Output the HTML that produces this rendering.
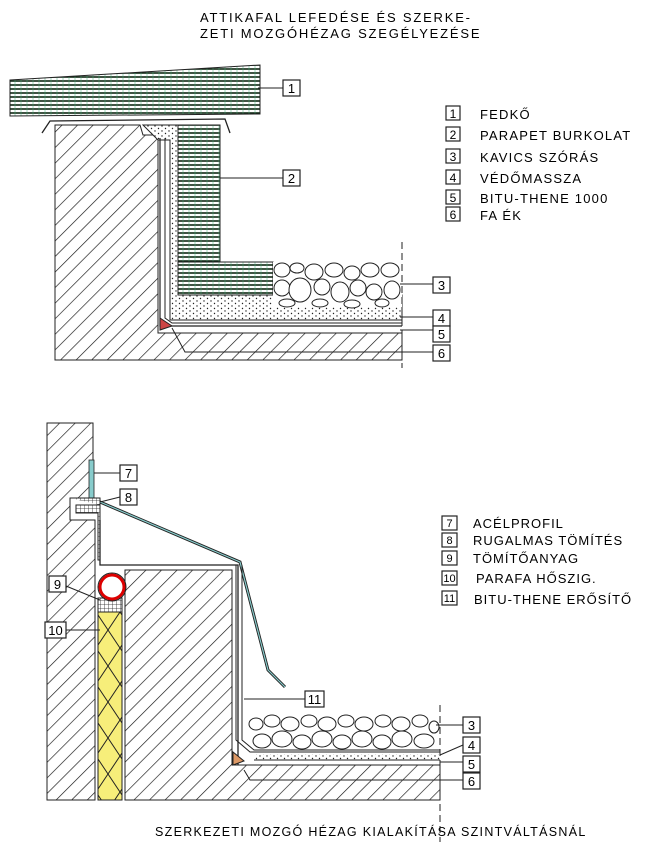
<!DOCTYPE html>
<html><head><meta charset="utf-8"><style>
html,body{margin:0;padding:0;background:#fff}
svg{display:block}
text{font-family:"Liberation Sans",sans-serif;fill:#000}
</style></head><body>
<svg width="650" height="847" viewBox="0 0 650 847" xmlns="http://www.w3.org/2000/svg">
<defs>
<pattern id="hat" width="11" height="11" patternUnits="userSpaceOnUse" patternTransform="rotate(45)">
<rect width="11" height="11" fill="#fff"/><line x1="0" y1="0" x2="0" y2="11" stroke="#111" stroke-width="1.3"/></pattern>
<pattern id="hl" width="6" height="4" patternUnits="userSpaceOnUse">
<rect width="6" height="4" fill="#fff"/><line x1="0" y1="1" x2="6" y2="1" stroke="#0f2a14" stroke-width="1.6"/><line x1="3" y1="0" x2="3" y2="4" stroke="#4a7" stroke-width="0.5"/></pattern>
<pattern id="dot" width="7" height="5" patternUnits="userSpaceOnUse">
<rect width="7" height="5" fill="#fff"/><circle cx="1" cy="1" r="0.7" fill="#222"/><circle cx="4.5" cy="3.5" r="0.7" fill="#222"/></pattern>
<pattern id="xx" width="24" height="36" patternUnits="userSpaceOnUse">
<rect width="24" height="36" fill="#f7ee7a"/><path d="M0 0L24 36M24 0L0 36" stroke="#222" stroke-width="1"/></pattern>
<pattern id="grid" width="4" height="4" patternUnits="userSpaceOnUse">
<rect width="4" height="4" fill="#fff"/><path d="M0 0H4M0 0V4" stroke="#222" stroke-width="0.8"/></pattern>
</defs>

<text x="200" y="22" font-size="13" letter-spacing="1.8">ATTIKAFAL LEFEDÉSE ÉS SZERKE-</text>
<text x="200" y="38" font-size="13" letter-spacing="1.8">ZETI MOZGÓHÉZAG SZEGÉLYEZÉSE</text>

<!-- TOP DRAWING -->
<polygon points="10,80 260,65 260,114 10,116" fill="url(#hl)" stroke="#222"/>
<polyline points="42,133 50,121 225,119 230,133" fill="none" stroke="#222" stroke-width="1.3"/>
<path d="M55,125 H140 L143,135 H158 V333 H402 V360 H55 Z" fill="url(#hat)" stroke="#222"/>
<path d="M143,125 H178 V295 H402 V320 H170 V140 H158 Z" fill="url(#dot)" stroke="#222"/>
<rect x="178" y="125" width="42" height="140" fill="url(#hl)" stroke="#222"/>
<rect x="178" y="262" width="95" height="33" fill="url(#hl)" stroke="#222"/>
<path d="M160,138 V326 H402" fill="none" stroke="#222" stroke-width="1.2"/>
<path d="M165,138 V318 L172,323 H402" fill="none" stroke="#222" stroke-width="1"/>
<path d="M185,326 H402" fill="none" stroke="#222" stroke-width="1"/>
<polygon points="160,318 172,326 160,330" fill="#c44" stroke="#222"/>
<g fill="#fff" stroke="#222">
<rect x="273" y="262" width="129" height="45" stroke="none"/>
<ellipse cx="282" cy="270" rx="8" ry="7"/><ellipse cx="297" cy="268" rx="7" ry="5"/>
<ellipse cx="314" cy="272" rx="9" ry="8"/><ellipse cx="334" cy="270" rx="9" ry="7"/>
<ellipse cx="352" cy="273" rx="8" ry="7"/><ellipse cx="370" cy="270" rx="9" ry="7"/>
<ellipse cx="390" cy="270" rx="9" ry="7"/>
<ellipse cx="282" cy="288" rx="8" ry="8"/><ellipse cx="300" cy="290" rx="11" ry="12"/>
<ellipse cx="322" cy="287" rx="8" ry="8"/><ellipse cx="340" cy="292" rx="9" ry="10"/>
<ellipse cx="358" cy="288" rx="8" ry="8"/><ellipse cx="374" cy="292" rx="8" ry="8"/>
<ellipse cx="392" cy="290" rx="8" ry="9"/>
<ellipse cx="287" cy="303" rx="8" ry="4"/><ellipse cx="320" cy="303" rx="8" ry="4"/>
<ellipse cx="352" cy="304" rx="8" ry="4"/><ellipse cx="382" cy="303" rx="7" ry="4"/>
</g>
<line x1="402" y1="242" x2="402" y2="368" stroke="#222" stroke-dasharray="7,4"/>
<g stroke="#222" fill="none" stroke-width="1">
<line x1="258" y1="88" x2="283" y2="88"/>
<line x1="220" y1="178" x2="283" y2="178"/>
<line x1="400" y1="284" x2="433" y2="284"/>
<line x1="400" y1="317" x2="433" y2="317"/>
<line x1="400" y1="330" x2="433" y2="330"/>
<polyline points="172,328 185,352 433,352"/>
</g>
<g stroke="#222" fill="#fff" stroke-width="1.2">
<rect x="283" y="80" width="17" height="16"/><rect x="283" y="170" width="17" height="16"/>
<rect x="433" y="277" width="17" height="16"/><rect x="433" y="310" width="17" height="16"/>
<rect x="433" y="326" width="17" height="16"/><rect x="433" y="345" width="17" height="16"/>
</g>
<g font-size="13" text-anchor="middle">
<text x="291.5" y="93">1</text><text x="291.5" y="183">2</text>
<text x="441.5" y="290">3</text><text x="441.5" y="323">4</text>
<text x="441.5" y="339">5</text><text x="441.5" y="358">6</text>
</g>
<g stroke="#222" fill="#fff" stroke-width="1.2">
<rect x="446" y="106" width="14" height="14"/><rect x="446" y="127" width="14" height="14"/>
<rect x="446" y="149" width="14" height="14"/><rect x="446" y="170" width="14" height="14"/>
<rect x="446" y="190" width="14" height="14"/><rect x="446" y="207" width="14" height="14"/>
</g>
<g font-size="12" text-anchor="middle">
<text x="453" y="118">1</text><text x="453" y="139">2</text><text x="453" y="161">3</text>
<text x="453" y="182">4</text><text x="453" y="202">5</text><text x="453" y="219">6</text>
</g>
<g font-size="13" letter-spacing="1.2">
<text x="480" y="119">FEDKŐ</text><text x="480" y="140">PARAPET BURKOLAT</text>
<text x="480" y="162">KAVICS SZÓRÁS</text><text x="480" y="183">VÉDŐMASSZA</text>
<text x="480" y="203">BITU-THENE 1000</text><text x="480" y="220">FA ÉK</text>
</g>

<!-- BOTTOM DRAWING -->
<path d="M47,423 H93 V498 H70 V520 H95 V800 H47 Z" fill="url(#hat)" stroke="#222"/>
<rect x="89" y="460" width="5" height="38" fill="#8cc" stroke="#222" stroke-width="0.8"/>
<path d="M70,498 H100 V505 H76 V513 H98 V560 H100 V505" fill="url(#grid)" stroke="#222"/>
<polyline points="100,502 240,562 268,670 285,687" fill="none" stroke="#222" stroke-width="3"/>
<polyline points="100,502 240,562 268,670 285,687" fill="none" stroke="#8cc" stroke-width="1.2"/>
<path d="M100,520 V565 H238 V775 L246,782" fill="none" stroke="#222" stroke-width="1.3"/>
<path d="M125,570 H232 V765 H440 V800 H125 Z" fill="url(#hat)" stroke="#222"/>
<rect x="98" y="612" width="24" height="188" fill="url(#xx)" stroke="#222"/>
<rect x="98" y="598" width="24" height="14" fill="url(#grid)" stroke="#222"/>
<circle cx="112" cy="587" r="12" fill="#fff" stroke="#d00" stroke-width="3"/>
<circle cx="112" cy="587" r="14" fill="none" stroke="#222"/>
<path d="M236,565 V740 L250,752 H440" fill="none" stroke="#222" stroke-width="1"/>
<path d="M242,565 V740 L254,750 H440" fill="none" stroke="#222" stroke-width="1"/>
<rect x="254" y="754" width="186" height="6" fill="url(#dot)"/>
<line x1="254" y1="760" x2="440" y2="760" stroke="#222"/>
<polygon points="233,752 244,761 233,765" fill="#d96" stroke="#222"/>
<g fill="#fff" stroke="#222">
<ellipse cx="256" cy="724" rx="7" ry="6"/><ellipse cx="272" cy="721" rx="8" ry="6"/>
<ellipse cx="290" cy="724" rx="9" ry="7"/><ellipse cx="309" cy="721" rx="8" ry="6"/>
<ellipse cx="327" cy="724" rx="9" ry="7"/><ellipse cx="346" cy="721" rx="8" ry="6"/>
<ellipse cx="364" cy="724" rx="9" ry="7"/><ellipse cx="383" cy="721" rx="8" ry="6"/>
<ellipse cx="401" cy="724" rx="9" ry="7"/><ellipse cx="420" cy="721" rx="8" ry="6"/>
<ellipse cx="434" cy="727" rx="5" ry="6"/>
<ellipse cx="262" cy="741" rx="9" ry="7"/><ellipse cx="282" cy="739" rx="10" ry="8"/>
<ellipse cx="302" cy="742" rx="9" ry="7"/><ellipse cx="322" cy="739" rx="10" ry="8"/>
<ellipse cx="342" cy="742" rx="9" ry="7"/><ellipse cx="362" cy="739" rx="10" ry="8"/>
<ellipse cx="382" cy="742" rx="9" ry="7"/><ellipse cx="402" cy="739" rx="10" ry="8"/>
<ellipse cx="424" cy="741" rx="10" ry="7"/>
</g>
<line x1="440" y1="705" x2="440" y2="842" stroke="#222" stroke-dasharray="7,4"/>
<g stroke="#222" fill="none" stroke-width="1">
<line x1="94" y1="473" x2="120" y2="473"/>
<line x1="100" y1="502" x2="120" y2="497"/>
<polyline points="66,586 100,600"/>
<line x1="66" y1="630" x2="100" y2="630"/>
<line x1="244" y1="699" x2="305" y2="699"/>
<line x1="436" y1="725" x2="463" y2="725"/>
<polyline points="440,755 463,745"/>
<line x1="440" y1="762" x2="463" y2="762"/>
<polyline points="244,770 250,780 463,780"/>
</g>
<g stroke="#222" fill="#fff" stroke-width="1.2">
<rect x="120" y="465" width="17" height="16"/><rect x="120" y="489" width="17" height="16"/>
<rect x="49" y="576" width="17" height="16"/><rect x="45" y="622" width="21" height="16"/>
<rect x="305" y="691" width="19" height="16"/>
<rect x="463" y="717" width="17" height="16"/><rect x="463" y="737" width="17" height="16"/>
<rect x="463" y="756" width="17" height="16"/><rect x="463" y="773" width="17" height="16"/>
</g>
<g font-size="13" text-anchor="middle">
<text x="128.5" y="478">7</text><text x="128.5" y="502">8</text>
<text x="57.5" y="589">9</text><text x="55.5" y="635">10</text>
<text x="314.5" y="704">11</text>
<text x="471.5" y="730">3</text><text x="471.5" y="750">4</text>
<text x="471.5" y="769">5</text><text x="471.5" y="786">6</text>
</g>
<g stroke="#222" fill="#fff" stroke-width="1.2">
<rect x="442" y="516" width="15" height="14"/><rect x="442" y="533" width="15" height="14"/>
<rect x="442" y="551" width="15" height="14"/><rect x="442" y="571" width="15" height="14"/>
<rect x="442" y="591" width="15" height="14"/>
</g>
<g font-size="11" text-anchor="middle">
<text x="449.5" y="527">7</text><text x="449.5" y="544">8</text><text x="449.5" y="562">9</text>
<text x="449.5" y="582">10</text><text x="449.5" y="602">11</text>
</g>
<g font-size="13" letter-spacing="1">
<text x="473" y="528">ACÉLPROFIL</text><text x="473" y="545">RUGALMAS TÖMÍTÉS</text>
<text x="473" y="563">TÖMÍTŐANYAG</text><text x="476" y="583">PARAFA HŐSZIG.</text>
<text x="474" y="604">BITU-THENE ERŐSÍTŐ</text>
</g>
<text x="155" y="836" font-size="12.5" letter-spacing="1.3">SZERKEZETI MOZGÓ HÉZAG KIALAKÍTÁSA SZINTVÁLTÁSNÁL</text>
</svg>
</body></html>
